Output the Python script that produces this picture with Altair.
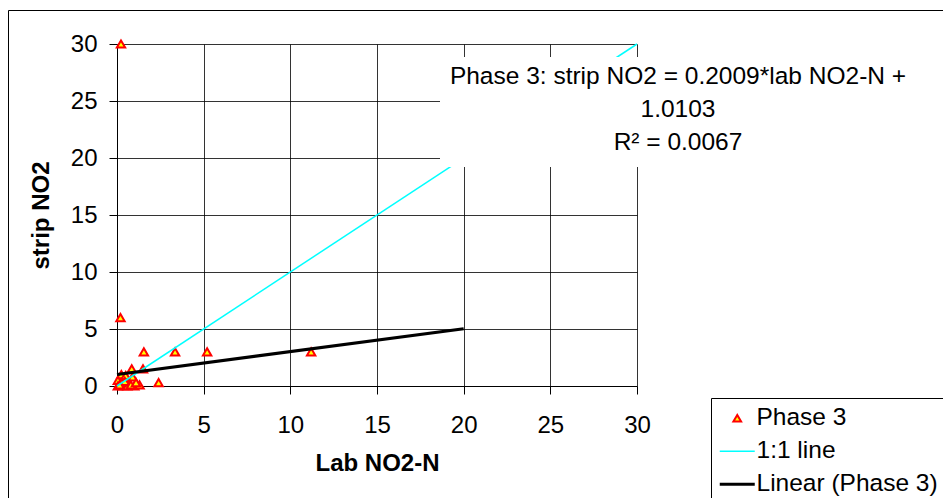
import altair as alt
import pandas as pd

# ---- data ----
lab_no2n = [0.23, 0.2, 1.55, 3.35, 5.2, 11.2, 2.4, 1.5, 0.85, 0.25, 0.5, 0.9,
            0.05, 0.05, 0.35, 0.7, 1.0, 1.3, 0.6, 0.25, 0.45, 0.15, 0.8, 1.1]
strip_no2 = [30, 6, 3, 3, 3, 3, 0.3, 1.5, 1.5, 1.0, 0.9, 0.8,
             0.5, 0.0, 0.0, 0.2, 0.0, 0.1, 0.0, 0.3, 0.4, 0.1, 0.1, 0.3]
series_names = ["Phase 3", "1:1 line", "Linear (Phase 3)"]
one_to_one_x = [0, 30]
trend_x = [0, 20]
trend_slope = 0.2009
trend_intercept = 1.0103
annot_lines = ["Phase 3: strip NO2 = 0.2009*lab NO2-N +", "1.0103", "R\u00b2 = 0.0067"]
axis_ticks = [0, 5, 10, 15, 20, 25, 30]

FONT = "Liberation Sans"

pts = pd.DataFrame({"lab": lab_no2n, "strip": strip_no2, "series": series_names[0]})
lines = pd.DataFrame({
    "lab": one_to_one_x + trend_x,
    "strip": one_to_one_x + [trend_slope * v + trend_intercept for v in trend_x],
    "series": [series_names[1]] * 2 + [series_names[2]] * 2,
})

xscale = alt.Scale(domain=[0, 30], nice=False, zero=False)
yscale = alt.Scale(domain=[0, 30], nice=False, zero=False)
color_scale = alt.Scale(domain=series_names, range=["#ff0000", "#00ffff", "#000000"])

legend = alt.Legend(
    title=None, orient="none", legendX=594, legendY=354,
    strokeColor="#000000", fillColor="#ffffff", padding=8,
    labelFont=FONT, labelFontSize=24.5, labelColor="#000000", labelOffset=7,
    symbolOffset=6, rowPadding=8, labelLimit=400,
    symbolType=alt.ExprRef("datum.value === 'Phase 3' ? 'triangle-up' : 'stroke'"),
    symbolSize=alt.ExprRef("datum.value === 'Phase 3' ? 60 : 1225"),
    symbolFillColor=alt.ExprRef("datum.value === 'Phase 3' ? '#ffff00' : 'transparent'"),
    symbolStrokeWidth=alt.ExprRef("datum.value === 'Linear (Phase 3)' ? 3 : (datum.value === 'Phase 3' ? 2 : 1.5)"),
    symbolOpacity=1,
)

x_enc = alt.X("lab:Q", scale=xscale, title="Lab NO2-N", axis=alt.Axis(values=axis_ticks))
y_enc = alt.Y("strip:Q", scale=yscale, title="strip NO2", axis=alt.Axis(values=axis_ticks))

dummy = pd.DataFrame({"d": [0]})

border = alt.Chart(dummy).mark_rect(fill="transparent", stroke="#000000", strokeWidth=1).encode(
    x=alt.value(-108.5), x2=alt.value(900), y=alt.value(-33.5), y2=alt.value(500))

line_layer = alt.Chart(lines).mark_line().encode(
    x=x_enc, y=y_enc,
    color=alt.Color("series:N", scale=color_scale, legend=legend),
    strokeWidth=alt.StrokeWidth("series:N", scale=alt.Scale(domain=series_names[1:], range=[1.5, 3]), legend=None),
    detail="series:N",
)

point_layer = alt.Chart(pts).mark_point(
    shape="triangle-up", filled=False, fill="#ffff00", fillOpacity=1, strokeWidth=2, size=70, opacity=1
).encode(
    x=x_enc, y=y_enc,
    color=alt.Color("series:N", scale=color_scale, legend=legend),
)

textbox = alt.Chart(dummy).mark_rect(fill="#ffffff").encode(
    x=alt.value(323), x2=alt.value(800), y=alt.value(13), y2=alt.value(123))

t1 = alt.Chart(dummy).mark_text(font=FONT, fontSize=24.5, color="#000000", align="center", baseline="middle").encode(
    x=alt.value(561), y=alt.value(33), text=alt.value(annot_lines[0]))
t2 = alt.Chart(dummy).mark_text(font=FONT, fontSize=24.5, color="#000000", align="center", baseline="middle").encode(
    x=alt.value(561), y=alt.value(66), text=alt.value(annot_lines[1]))
t3 = alt.Chart(dummy).mark_text(font=FONT, fontSize=24.5, color="#000000", align="center", baseline="middle").encode(
    x=alt.value(561), y=alt.value(99), text=alt.value(annot_lines[2]))

chart = alt.layer(border, point_layer, line_layer, textbox, t1, t2, t3).properties(
    width=520, height=342,
    autosize=alt.AutoSizeParams(type="none"),
    padding={"left": 109, "top": 36, "right": 306, "bottom": 112},
).configure_view(stroke=None).configure_axis(
    labelFont=FONT, labelFontSize=24, labelColor="#000000",
    titleFont=FONT, titleFontSize=24, titleFontWeight="bold", titleColor="#000000",
    domainColor="#000000", domainWidth=1, tickColor="#000000", tickSize=8, tickWidth=1,
    gridColor="#000000", gridWidth=1, gridOpacity=0.8, labelOverlap=False, labelFlush=False,
).configure_axisX(labelPadding=19, titlePadding=14).configure_axisY(labelPadding=12, titlePadding=17)

chart.save("out.html", embed_options={"renderer": "svg", "actions": False})
